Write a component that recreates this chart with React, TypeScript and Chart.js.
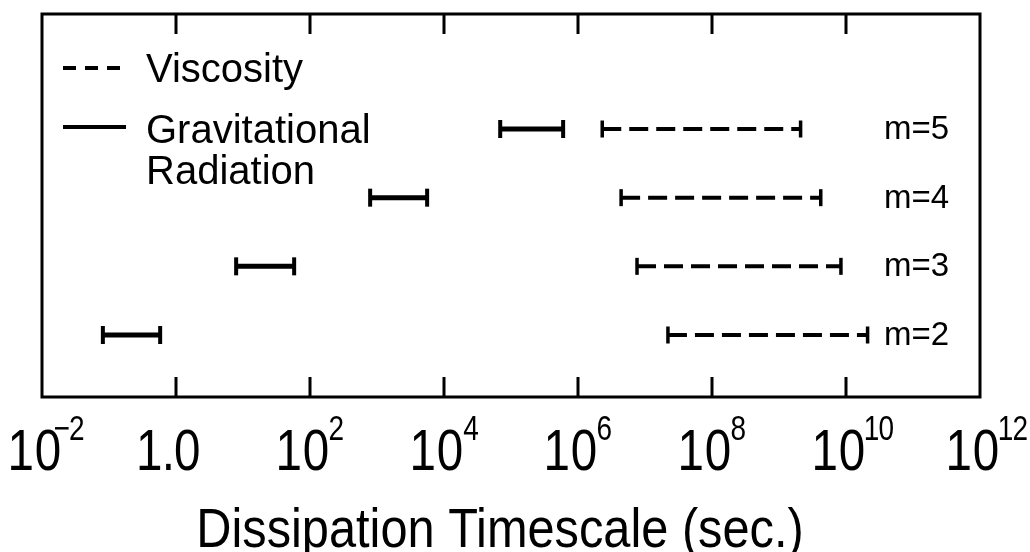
import { useEffect, useRef } from 'react';
import { Chart, registerables } from 'chart.js';

Chart.register(...registerables);

const FONT = "'Liberation Sans', Arial, sans-serif";

// rows (azimuthal mode number m)
const modes = [5, 4, 3, 2];
const modeLabels = ['m=5', 'm=4', 'm=3', 'm=2'];

// gravitational radiation timescale ranges (sec.)
const gravStart = [6.9e4, 790, 7.9, 0.081];
const gravEnd = [6.0e5, 5.6e3, 58, 0.58];

// viscosity timescale ranges (sec.)
const viscStart = [2.3e6, 4.4e6, 7.6e6, 2.2e7];
const viscEnd = [2.1e9, 4.2e9, 8.4e9, 2.1e10];

// x-axis ticks
const tickValues = [1e-2, 1, 1e2, 1e4, 1e6, 1e8, 1e10, 1e12];
const tickBase = ['10', '1.0', '10', '10', '10', '10', '10', '10'];
const tickExp = ['\u22122', '', '2', '4', '6', '8', '10', '12'];

const axisTitle = 'Dissipation Timescale (sec.)';
const legendViscosity = 'Viscosity';
const legendGrav = ['Gravitational', 'Radiation'];

// lay out characters one by one with a given extra spacing; returns offsets and visual bounds (unscaled)
function layoutText(ctx: any, text: string, spacing: number) {
  const chars = Array.from(text);
  const offs: number[] = [];
  let cur = 0;
  let visL = 0;
  let visR = 0;
  chars.forEach((ch, i) => {
    const m = ctx.measureText(ch);
    offs.push(cur);
    if (i === 0) visL = cur - m.actualBoundingBoxLeft;
    if (i === chars.length - 1) visR = cur + m.actualBoundingBoxRight;
    cur += m.width + spacing;
  });
  return { chars, offs, visL, visR };
}

function drawLaidOut(ctx: any, lay: any, x: number, y: number, sx: number) {
  ctx.save();
  ctx.translate(x, y);
  ctx.scale(sx, 1);
  lay.chars.forEach((ch: string, i: number) => ctx.fillText(ch, lay.offs[i], 0));
  ctx.restore();
}

const overlay = {
  id: 'overlay',
  afterDraw(chart: any) {
    const ctx: any = chart.ctx;
    const area = chart.chartArea;
    const xs = chart.scales.x;
    const ys = chart.scales.y;
    ctx.save();
    ctx.strokeStyle = '#000';
    ctx.fillStyle = '#000';
    ctx.lineCap = 'butt';

    // frame
    ctx.lineWidth = 3;
    ctx.setLineDash([]);
    ctx.strokeRect(area.left, area.top, area.right - area.left, area.bottom - area.top);

    // inward ticks (top and bottom)
    tickValues.forEach((v) => {
      const px = xs.getPixelForValue(v);
      if (px <= area.left + 2 || px >= area.right - 2) return;
      ctx.beginPath();
      ctx.moveTo(px, area.top);
      ctx.lineTo(px, area.top + 20);
      ctx.moveTo(px, area.bottom);
      ctx.lineTo(px, area.bottom - 20);
      ctx.stroke();
    });

    // tick labels
    ctx.textAlign = 'left';
    ctx.textBaseline = 'alphabetic';
    const SX = 0.82;
    const SXE = 0.8;
    tickValues.forEach((v, i) => {
      const px = xs.getPixelForValue(v);
      ctx.font = `58px ${FONT}`;
      const lay = layoutText(ctx, tickBase[i], tickBase[i].includes('.') ? -1 : 1);
      const center = px - 7;
      const x0 = center - ((lay.visL + lay.visR) / 2) * SX;
      drawLaidOut(ctx, lay, x0, area.bottom + 73, SX);
      if (tickExp[i]) {
        const baseRight = x0 + lay.visR * SX;
        ctx.font = `35px ${FONT}`;
        const le = layoutText(ctx, tickExp[i], -1);
        const gap = tickExp[i].startsWith('\u2212') ? -5 : 2;
        const ex = baseRight + gap - le.visL * SXE;
        drawLaidOut(ctx, le, ex, area.bottom + 43, SXE);
      }
    });

    // axis title
    ctx.save();
    ctx.font = `56px ${FONT}`;
    ctx.textAlign = 'center';
    ctx.scale(0.87, 1);
    ctx.fillText(axisTitle, 500 / 0.87, area.bottom + 150);
    ctx.restore();

    // legend
    ctx.textAlign = 'left';
    ctx.lineWidth = 4;
    ctx.setLineDash([13, 9]);
    ctx.beginPath();
    ctx.moveTo(area.left + 21, area.top + 54);
    ctx.lineTo(area.left + 84, area.top + 54);
    ctx.stroke();
    ctx.setLineDash([]);
    ctx.beginPath();
    ctx.moveTo(area.left + 21, area.top + 113);
    ctx.lineTo(area.left + 84, area.top + 113);
    ctx.stroke();
    ctx.font = `40px ${FONT}`;
    ctx.fillText(legendViscosity, area.left + 104, area.top + 68);
    ctx.fillText(legendGrav[0], area.left + 104, area.top + 129);
    ctx.fillText(legendGrav[1], area.left + 104, area.top + 170);

    // mode labels
    ctx.font = `33px ${FONT}`;
    modes.forEach((m, i) => {
      const py = ys.getPixelForValue(m);
      ctx.fillText(modeLabels[i], 884, py + 10);
    });

    ctx.restore();
  },
};

export default function App() {
  const ref = useRef<HTMLCanvasElement | null>(null);

  useEffect(() => {
    if (!ref.current) return;
    const datasets: any[] = [];
    modes.forEach((m, i) => {
      datasets.push({
        label: `grav ${m}`,
        data: [
          { x: gravStart[i], y: m },
          { x: gravEnd[i], y: m },
        ],
        showLine: true,
        borderColor: '#000',
        borderWidth: 5,
        pointStyle: 'line',
        pointRotation: 90,
        pointRadius: 9,
        pointHoverRadius: 9,
        pointBorderWidth: 4,
        pointBorderColor: '#000',
        pointBackgroundColor: '#000',
      });
      datasets.push({
        label: `visc ${m}`,
        data: [
          { x: viscStart[i], y: m },
          { x: viscEnd[i], y: m },
        ],
        showLine: true,
        borderColor: '#000',
        borderWidth: 4,
        borderDash: [19, 8],
        pointStyle: 'line',
        pointRotation: 90,
        pointRadius: 8.5,
        pointHoverRadius: 8.5,
        pointBorderWidth: 3.5,
        pointBorderColor: '#000',
        pointBackgroundColor: '#000',
      });
    });

    const chart = new Chart(ref.current, {
      type: 'scatter',
      data: { datasets },
      options: {
        animation: false,
        responsive: false,
        maintainAspectRatio: false,
        events: [],
        layout: { padding: { left: 42, top: 14, right: 50, bottom: 155 } },
        scales: {
          x: { type: 'logarithmic', min: 1e-2, max: 1e12, display: false },
          y: { type: 'linear', min: 1.097, max: 6.675, display: false },
        },
        plugins: {
          legend: { display: false },
          tooltip: { enabled: false },
        },
      },
      plugins: [overlay],
    } as any);
    return () => chart.destroy();
  }, []);

  return (
    <div style={{ position: 'fixed', left: 0, top: 0, width: 1030, height: 552, background: '#fff' }}>
      <canvas ref={ref} width={1030} height={552} style={{ display: 'block', width: 1030, height: 552 }} />
    </div>
  );
}
